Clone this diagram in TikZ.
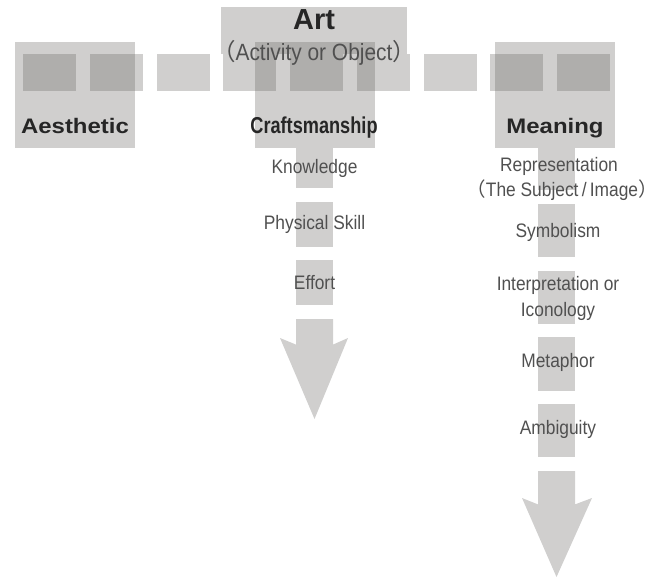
\documentclass[tikz,border=0pt]{standalone}
\usepackage{fontspec}
\setmainfont{Liberation Sans}
\newfontfamily\wideface[FakeStretch=1.14]{Liberation Sans}
\newfontfamily\narrowface[FakeStretch=0.79]{Liberation Sans}
\newfontfamily\thinface[FakeStretch=0.89]{Liberation Sans}
\newfontfamily\cjk{Noto Sans CJK SC}
\definecolor{shade}{RGB}{108,105,102}
\definecolor{lbl}{RGB}{38,38,38}
\definecolor{sublbl}{RGB}{80,80,80}

\begin{document}
\begin{tikzpicture}[x=1pt, y=-1pt,
  tile/.style = {fill=shade, fill opacity=0.32, draw=none, inner sep=0pt, outer sep=0pt},
  head/.style = {text=lbl, inner sep=0pt, anchor=base,
    font=\wideface\bfseries\fontsize{21}{25}\selectfont},
  item/.style = {text=sublbl, inner sep=0pt, anchor=base,
    font=\thinface\fontsize{19.5}{25}\selectfont}]
  \useasboundingbox (0,0) rectangle (660,578);
  % top box, row of squares, the three boxes
  \node[tile, minimum width=186pt, minimum height=47pt] (art) at (314,30.5) {};
  \foreach \i in {0,...,8}
    \node[tile, minimum width=53pt, minimum height=37pt] (sq\i) at (49.5+66.75*\i,72.5) {};
  \node[tile, minimum width=120pt, minimum height=106pt] (aes) at (75,95) {};
  \node[tile, minimum width=120pt, minimum height=106pt] (craft) at (315,95) {};
  \node[tile, minimum width=120pt, minimum height=106pt] (mean) at (555,95) {};

  % dashed columns and arrows
  \foreach \t/\b in {148/188, 202/247, 260/305}
    \fill[tile] (296,\t) rectangle (333,\b);
  \fill[tile] (296,319) -- (333,319) -- (333,344.6) -- (348,338) -- (314.5,419)
    -- (280,338) -- (296,344.6) -- cycle;
  \foreach \t/\b in {148/190, 204/257, 271/324, 337/391, 404/457}
    \fill[tile] (538,\t) rectangle (575,\b);
  \fill[tile] (538,471) -- (575,471) -- (575,504.4) -- (592,498) -- (556.5,577)
    -- (522,498) -- (538,504.4) -- cycle;

  % labels
  \node[text=lbl, inner sep=0pt, anchor=base, font=\bfseries\fontsize{29}{32}\selectfont]
    (arttxt) at (314,30) {Art};
  \node[item, font=\thinface\fontsize{23.5}{26}\selectfont] (acttxt) at (314,60)
    {{\cjk （}Activity or Object{\cjk ）}};
  \node[head] (aestxt) at (75,133) {Aesthetic};
  \node[head, font=\narrowface\bfseries\fontsize{23}{26}\selectfont] (crafttxt) at (314,133) {Craftsmanship};
  \node[head] (meantxt) at (555,133) {Meaning};

  \node[item] (know) at (314.5,173) {Knowledge};
  \node[item] (skill) at (314.5,229) {Physical Skill};
  \node[item] (effort) at (314.5,289) {Effort};

  \node[item] (repr) at (559,171) {Representation};
  \node[item] (subj) at (562,196) {{\cjk （}The Subject\,/\,Image{\cjk ）}};
  \node[item] (symb) at (558,237) {Symbolism};
  \node[item] (interp) at (558,290) {Interpretation or};
  \node[item] (icon) at (558,316) {Iconology};
  \node[item] (meta) at (558,367) {Metaphor};
  \node[item] (ambi) at (558,434) {Ambiguity};
\end{tikzpicture}
\end{document}
